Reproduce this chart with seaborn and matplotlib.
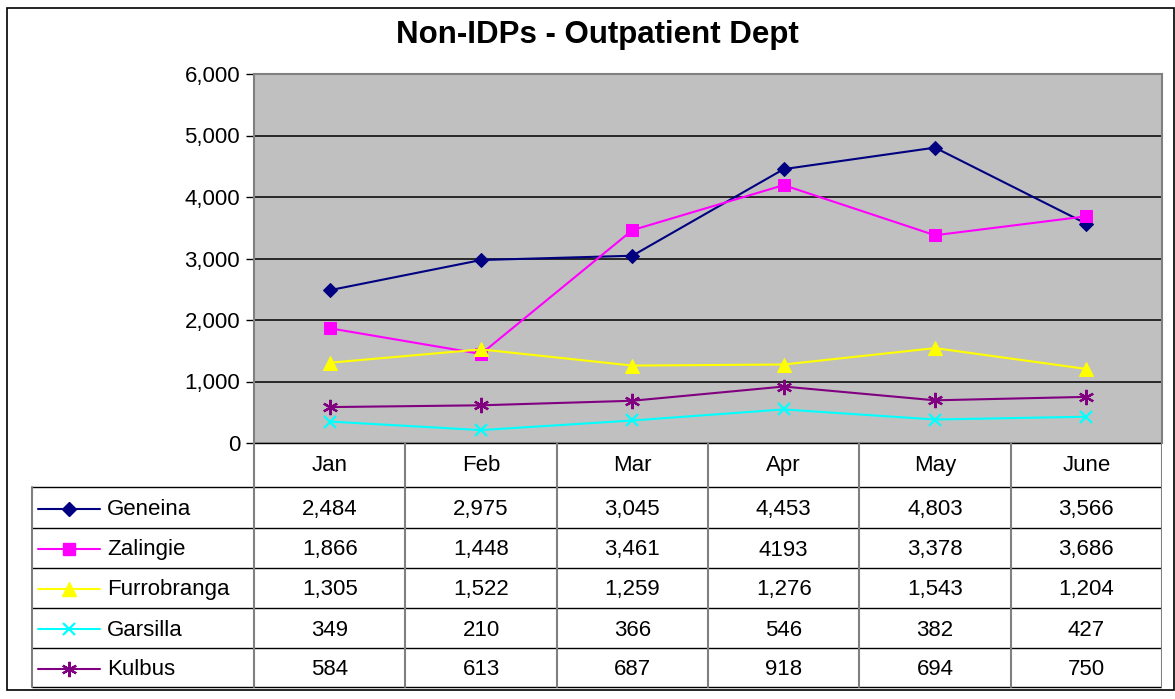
import matplotlib
matplotlib.use("Agg")
import matplotlib.pyplot as plt
import seaborn as sns
import pandas as pd
from matplotlib.ticker import FuncFormatter

months = ["Jan", "Feb", "Mar", "Apr", "May", "June"]
sites = ["Geneina", "Zalingie", "Furrobranga", "Garsilla", "Kulbus"]
geneina = [2484, 2975, 3045, 4453, 4803, 3566]
zalingie = [1866, 1448, 3461, 4193, 3378, 3686]
furrobranga = [1305, 1522, 1259, 1276, 1543, 1204]
garsilla = [349, 210, 366, 546, 382, 427]
kulbus = [584, 613, 687, 918, 694, 750]
table_text = [
    ["2,484", "2,975", "3,045", "4,453", "4,803", "3,566"],
    ["1,866", "1,448", "3,461", "4193", "3,378", "3,686"],
    ["1,305", "1,522", "1,259", "1,276", "1,543", "1,204"],
    ["349", "210", "366", "546", "382", "427"],
    ["584", "613", "687", "918", "694", "750"],
]
values = [geneina, zalingie, furrobranga, garsilla, kulbus]

colors = {"Geneina": "#000080", "Zalingie": "#FF00FF", "Furrobranga": "#FFFF00",
          "Garsilla": "#00FFFF", "Kulbus": "#800080"}
markers = {"Geneina": "D", "Zalingie": "s", "Furrobranga": "^",
           "Garsilla": "x", "Kulbus": (6, 2, 0)}
msizes = {"Geneina": 7.5, "Zalingie": 8.5, "Furrobranga": 10, "Garsilla": 9, "Kulbus": 11}

sns.set_style("white")
plt.rcParams["font.family"] = ["Liberation Sans", "DejaVu Sans"]
plt.rcParams["text.color"] = "black"
plt.rcParams["ytick.labelcolor"] = "black"

FS = 16
W, H = 1175, 699
fig = plt.figure(figsize=(W / 100, H / 100), dpi=100)

def fx(px):
    return px / W

def fy(py):
    return 1 - py / H

# outer frame
fig.add_artist(plt.Rectangle((fx(7), fy(690)), fx(1174) - fx(7), fy(8) - fy(690),
                             transform=fig.transFigure, fill=False, edgecolor="black", lw=1.2))

L, R, T, B = 254, 1162, 74, 443
ax = fig.add_axes([fx(L), fy(B), fx(R) - fx(L), fy(T) - fy(B)])
ax.set_facecolor("#C0C0C0")

df = pd.DataFrame({
    "month": months * len(sites),
    "site": [s for s in sites for _ in months],
    "value": [v for vals in values for v in vals],
})
df["x"] = [months.index(m) for m in df["month"]]

for s in sites:
    d = df[df["site"] == s]
    m = markers[s]
    kw = dict(markeredgecolor=colors[s], markerfacecolor=colors[s])
    if m == "x" or isinstance(m, tuple):
        kw = dict(markeredgecolor=colors[s], markeredgewidth=1.6)
    sns.lineplot(data=d, x="x", y="value", color=colors[s], marker=m,
                 markersize=msizes[s], lw=1.5, ax=ax, legend=False, zorder=3,
                 clip_on=False, **kw)

ax.set_xlim(-0.5, 5.5)
ax.set_ylim(0, 6000)
ax.set_yticks(range(0, 6001, 1000))
ax.yaxis.set_major_formatter(FuncFormatter(lambda v, p: f"{int(v):,}"))
ax.set_xticks([])
ax.set_xlabel("")
ax.set_ylabel("")
ax.grid(axis="y", color="black", lw=1.1)
ax.set_axisbelow(True)
ax.tick_params(axis="y", length=6, width=1, color="black", labelsize=FS, pad=4,
               left=True, labelcolor="black")
for sp in ax.spines.values():
    sp.set_color("#808080")
    sp.set_linewidth(1.5)
    sp.set_visible(True)

fig.text(fx(597), fy(35), "Non-IDPs - Outpatient Dept", ha="center", va="center",
         fontsize=22.5, fontweight="bold", color="black")

# data table
tab = fig.add_axes([fx(30), fy(690), fx(R) - fx(30), fy(B) - fy(690)])
tab.set_xlim(30, R)
tab.set_ylim(690, B)
tab.axis("off")
colw = (R - L) / len(months)
rows = [487, 528, 568, 608, 648, 687]
left_t = 32
tab.plot([L, R], [B, B], color="black", lw=1)
for yy in rows:
    tab.plot([left_t, R], [yy, yy], color="black", lw=1)
tab.plot([left_t, left_t], [rows[0], rows[-1]], color="#808080", lw=1.5)
for i in range(len(months) + 1):
    xx = L + i * colw
    tab.plot([xx, xx], [B, rows[-1]], color="#808080", lw=1.5)
for i, m in enumerate(months):
    tab.text(L + (i + 0.5) * colw, (B + rows[0]) / 2, m, ha="center", va="center",
             fontsize=FS, color="black")
for r, s in enumerate(sites):
    yc = (rows[r] + rows[r + 1]) / 2
    mk = markers[s]
    kw = dict(markeredgecolor=colors[s], markerfacecolor=colors[s])
    if mk == "x" or isinstance(mk, tuple):
        kw = dict(markeredgecolor=colors[s], markeredgewidth=1.6)
    tab.plot([38, 100], [yc + 1, yc + 1], color=colors[s], lw=1.5)
    tab.plot([69], [yc + 1], marker=mk, markersize=msizes[s], color=colors[s], **kw)
    tab.text(107, yc + 2, s, ha="left", va="center", fontsize=FS, color="black")
    for i in range(len(months)):
        tab.text(L + (i + 0.5) * colw, yc + 2, table_text[r][i], ha="center", va="center",
                 fontsize=FS, color="black")

fig.savefig("out.png", dpi=100)
